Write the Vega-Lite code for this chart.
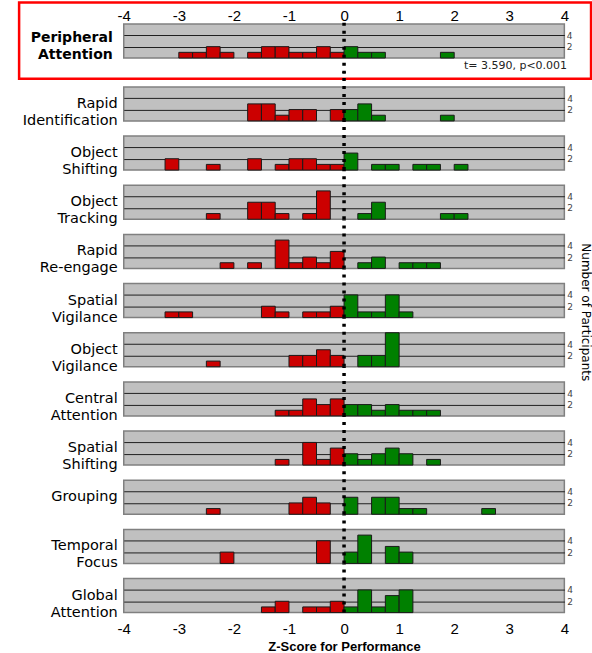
{
"$schema": "https://vega.github.io/schema/vega-lite/v6.json",
"background": "white",
"padding": {"left": 16.75, "top": 0, "right": 0, "bottom": 0},
"autosize": {"type": "pad"},
"spacing": -12.1,
"title": {"text": "Number of Participants", "orient": "right", "anchor": "middle", "font": "DejaVu Sans", "fontSize": 12, "fontWeight": "normal", "color": "#000", "offset": -14, "dx": -15},
"config": {
  "view": {"fill": "#C0C0C0", "stroke": "#808080", "strokeWidth": 1.5},
  "axis": {"labelFont": "Liberation Sans", "titleFont": "Liberation Sans"}
},
"datasets": {"hist": [
{"task":"Peripheral|Attention","lo":-3,"hi":-2.75,"n":1},
{"task":"Peripheral|Attention","lo":-2.75,"hi":-2.5,"n":1},
{"task":"Peripheral|Attention","lo":-2.5,"hi":-2.25,"n":2},
{"task":"Peripheral|Attention","lo":-2.25,"hi":-2,"n":1},
{"task":"Peripheral|Attention","lo":-1.75,"hi":-1.5,"n":1},
{"task":"Peripheral|Attention","lo":-1.5,"hi":-1.25,"n":2},
{"task":"Peripheral|Attention","lo":-1.25,"hi":-1,"n":2},
{"task":"Peripheral|Attention","lo":-1,"hi":-0.75,"n":1},
{"task":"Peripheral|Attention","lo":-0.75,"hi":-0.5,"n":1},
{"task":"Peripheral|Attention","lo":-0.5,"hi":-0.25,"n":2},
{"task":"Peripheral|Attention","lo":-0.25,"hi":0,"n":1},
{"task":"Peripheral|Attention","lo":0,"hi":0.25,"n":2},
{"task":"Peripheral|Attention","lo":0.25,"hi":0.5,"n":1},
{"task":"Peripheral|Attention","lo":0.5,"hi":0.75,"n":1},
{"task":"Peripheral|Attention","lo":1.75,"hi":2,"n":1},
{"task":"Rapid|Identification","lo":-1.75,"hi":-1.5,"n":3},
{"task":"Rapid|Identification","lo":-1.5,"hi":-1.25,"n":3},
{"task":"Rapid|Identification","lo":-1.25,"hi":-1,"n":1},
{"task":"Rapid|Identification","lo":-1,"hi":-0.75,"n":2},
{"task":"Rapid|Identification","lo":-0.75,"hi":-0.5,"n":2},
{"task":"Rapid|Identification","lo":-0.25,"hi":0,"n":2},
{"task":"Rapid|Identification","lo":0,"hi":0.25,"n":2},
{"task":"Rapid|Identification","lo":0.25,"hi":0.5,"n":3},
{"task":"Rapid|Identification","lo":0.5,"hi":0.75,"n":1},
{"task":"Rapid|Identification","lo":1.75,"hi":2,"n":1},
{"task":"Object|Shifting","lo":-3.25,"hi":-3,"n":2},
{"task":"Object|Shifting","lo":-2.5,"hi":-2.25,"n":1},
{"task":"Object|Shifting","lo":-1.75,"hi":-1.5,"n":2},
{"task":"Object|Shifting","lo":-1.25,"hi":-1,"n":1},
{"task":"Object|Shifting","lo":-1,"hi":-0.75,"n":2},
{"task":"Object|Shifting","lo":-0.75,"hi":-0.5,"n":2},
{"task":"Object|Shifting","lo":-0.5,"hi":-0.25,"n":1},
{"task":"Object|Shifting","lo":-0.25,"hi":0,"n":1},
{"task":"Object|Shifting","lo":0,"hi":0.25,"n":3},
{"task":"Object|Shifting","lo":0.5,"hi":0.75,"n":1},
{"task":"Object|Shifting","lo":0.75,"hi":1,"n":1},
{"task":"Object|Shifting","lo":1.25,"hi":1.5,"n":1},
{"task":"Object|Shifting","lo":1.5,"hi":1.75,"n":1},
{"task":"Object|Shifting","lo":2,"hi":2.25,"n":1},
{"task":"Object|Tracking","lo":-2.5,"hi":-2.25,"n":1},
{"task":"Object|Tracking","lo":-1.75,"hi":-1.5,"n":3},
{"task":"Object|Tracking","lo":-1.5,"hi":-1.25,"n":3},
{"task":"Object|Tracking","lo":-1.25,"hi":-1,"n":1},
{"task":"Object|Tracking","lo":-0.75,"hi":-0.5,"n":1},
{"task":"Object|Tracking","lo":-0.5,"hi":-0.25,"n":5},
{"task":"Object|Tracking","lo":0.25,"hi":0.5,"n":1},
{"task":"Object|Tracking","lo":0.5,"hi":0.75,"n":3},
{"task":"Object|Tracking","lo":1.75,"hi":2,"n":1},
{"task":"Object|Tracking","lo":2,"hi":2.25,"n":1},
{"task":"Rapid|Re-engage","lo":-2.25,"hi":-2,"n":1},
{"task":"Rapid|Re-engage","lo":-1.75,"hi":-1.5,"n":1},
{"task":"Rapid|Re-engage","lo":-1.25,"hi":-1,"n":5},
{"task":"Rapid|Re-engage","lo":-1,"hi":-0.75,"n":1},
{"task":"Rapid|Re-engage","lo":-0.75,"hi":-0.5,"n":2},
{"task":"Rapid|Re-engage","lo":-0.5,"hi":-0.25,"n":1},
{"task":"Rapid|Re-engage","lo":-0.25,"hi":0,"n":3},
{"task":"Rapid|Re-engage","lo":0.25,"hi":0.5,"n":1},
{"task":"Rapid|Re-engage","lo":0.5,"hi":0.75,"n":2},
{"task":"Rapid|Re-engage","lo":1,"hi":1.25,"n":1},
{"task":"Rapid|Re-engage","lo":1.25,"hi":1.5,"n":1},
{"task":"Rapid|Re-engage","lo":1.5,"hi":1.75,"n":1},
{"task":"Spatial|Vigilance","lo":-3.25,"hi":-3,"n":1},
{"task":"Spatial|Vigilance","lo":-3,"hi":-2.75,"n":1},
{"task":"Spatial|Vigilance","lo":-1.5,"hi":-1.25,"n":2},
{"task":"Spatial|Vigilance","lo":-1.25,"hi":-1,"n":1},
{"task":"Spatial|Vigilance","lo":-0.75,"hi":-0.5,"n":1},
{"task":"Spatial|Vigilance","lo":-0.5,"hi":-0.25,"n":1},
{"task":"Spatial|Vigilance","lo":-0.25,"hi":0,"n":2},
{"task":"Spatial|Vigilance","lo":0,"hi":0.25,"n":4},
{"task":"Spatial|Vigilance","lo":0.25,"hi":0.5,"n":1},
{"task":"Spatial|Vigilance","lo":0.5,"hi":0.75,"n":1},
{"task":"Spatial|Vigilance","lo":0.75,"hi":1,"n":4},
{"task":"Spatial|Vigilance","lo":1,"hi":1.25,"n":1},
{"task":"Object|Vigilance","lo":-2.5,"hi":-2.25,"n":1},
{"task":"Object|Vigilance","lo":-1,"hi":-0.75,"n":2},
{"task":"Object|Vigilance","lo":-0.75,"hi":-0.5,"n":2},
{"task":"Object|Vigilance","lo":-0.5,"hi":-0.25,"n":3},
{"task":"Object|Vigilance","lo":-0.25,"hi":0,"n":2},
{"task":"Object|Vigilance","lo":0.25,"hi":0.5,"n":2},
{"task":"Object|Vigilance","lo":0.5,"hi":0.75,"n":2},
{"task":"Object|Vigilance","lo":0.75,"hi":1,"n":6},
{"task":"Central|Attention","lo":-1.25,"hi":-1,"n":1},
{"task":"Central|Attention","lo":-1,"hi":-0.75,"n":1},
{"task":"Central|Attention","lo":-0.75,"hi":-0.5,"n":3},
{"task":"Central|Attention","lo":-0.5,"hi":-0.25,"n":2},
{"task":"Central|Attention","lo":-0.25,"hi":0,"n":3},
{"task":"Central|Attention","lo":0,"hi":0.25,"n":2},
{"task":"Central|Attention","lo":0.25,"hi":0.5,"n":2},
{"task":"Central|Attention","lo":0.5,"hi":0.75,"n":1},
{"task":"Central|Attention","lo":0.75,"hi":1,"n":2},
{"task":"Central|Attention","lo":1,"hi":1.25,"n":1},
{"task":"Central|Attention","lo":1.25,"hi":1.5,"n":1},
{"task":"Central|Attention","lo":1.5,"hi":1.75,"n":1},
{"task":"Spatial|Shifting","lo":-1.25,"hi":-1,"n":1},
{"task":"Spatial|Shifting","lo":-0.75,"hi":-0.5,"n":4},
{"task":"Spatial|Shifting","lo":-0.5,"hi":-0.25,"n":1},
{"task":"Spatial|Shifting","lo":-0.25,"hi":0,"n":3},
{"task":"Spatial|Shifting","lo":0,"hi":0.25,"n":2},
{"task":"Spatial|Shifting","lo":0.25,"hi":0.5,"n":1},
{"task":"Spatial|Shifting","lo":0.5,"hi":0.75,"n":2},
{"task":"Spatial|Shifting","lo":0.75,"hi":1,"n":3},
{"task":"Spatial|Shifting","lo":1,"hi":1.25,"n":2},
{"task":"Spatial|Shifting","lo":1.5,"hi":1.75,"n":1},
{"task":"Grouping","lo":-2.5,"hi":-2.25,"n":1},
{"task":"Grouping","lo":-1,"hi":-0.75,"n":2},
{"task":"Grouping","lo":-0.75,"hi":-0.5,"n":3},
{"task":"Grouping","lo":-0.5,"hi":-0.25,"n":2},
{"task":"Grouping","lo":0,"hi":0.25,"n":3},
{"task":"Grouping","lo":0.5,"hi":0.75,"n":3},
{"task":"Grouping","lo":0.75,"hi":1,"n":3},
{"task":"Grouping","lo":1,"hi":1.25,"n":1},
{"task":"Grouping","lo":1.25,"hi":1.5,"n":1},
{"task":"Grouping","lo":2.5,"hi":2.75,"n":1},
{"task":"Temporal|Focus","lo":-2.25,"hi":-2,"n":2},
{"task":"Temporal|Focus","lo":-0.5,"hi":-0.25,"n":4},
{"task":"Temporal|Focus","lo":0,"hi":0.25,"n":2},
{"task":"Temporal|Focus","lo":0.25,"hi":0.5,"n":5},
{"task":"Temporal|Focus","lo":0.75,"hi":1,"n":3},
{"task":"Temporal|Focus","lo":1,"hi":1.25,"n":2},
{"task":"Global|Attention","lo":-1.5,"hi":-1.25,"n":1},
{"task":"Global|Attention","lo":-1.25,"hi":-1,"n":2},
{"task":"Global|Attention","lo":-0.75,"hi":-0.5,"n":1},
{"task":"Global|Attention","lo":-0.5,"hi":-0.25,"n":1},
{"task":"Global|Attention","lo":-0.25,"hi":0,"n":2},
{"task":"Global|Attention","lo":0,"hi":0.25,"n":1},
{"task":"Global|Attention","lo":0.25,"hi":0.5,"n":4},
{"task":"Global|Attention","lo":0.5,"hi":0.75,"n":1},
{"task":"Global|Attention","lo":0.75,"hi":1,"n":3},
{"task":"Global|Attention","lo":1,"hi":1.25,"n":4}
]},
"vconcat": [
{
  "data": {"name": "hist"},
  "transform": [{"filter": "datum.task === 'Peripheral|Attention'"}],
  "width": 440.6, "height": 34,
  "layer": [
    {
      "mark": {"type": "rect", "stroke": "#1a1a1a", "strokeWidth": 1},
      "encoding": {
        "x": {"field": "lo", "type": "quantitative", "scale": {"domain": [-4, 4], "nice": false, "zero": false},
              "axis": {"orient": "top", "values": [-4,-3,-2,-1,0,1,2,3,4], "labelExpr": "'' + datum.value", "ticks": false, "domain": false, "grid": false, "labelFontSize": 15, "labelPadding": 1, "labelColor": "#000", "title": null, "labelFlush": false}},
        "x2": {"field": "hi"},
        "y": {"field": "n", "type": "quantitative", "scale": {"domain": [0, 6], "nice": false},
              "axis": {"orient": "right", "values": [2, 4], "grid": true, "gridColor": "#202020", "gridWidth": 1, "ticks": false, "domain": false, "labelFontSize": 9, "labelColor": "#444", "labelPadding": 2, "title": null, "labelFont": "DejaVu Sans"}},
        "y2": {"datum": 0},
        "color": {"condition": {"test": "datum.lo < 0", "value": "#CC0000"}, "value": "#008000"}
      }
    },
    {
      "transform": [{"aggregate": [{"op": "count", "as": "c"}], "groupby": ["task"]}],
      "mark": {"type": "rule", "strokeDash": [3, 5], "strokeWidth": 3.5, "color": "#000"},
      "encoding": {"x": {"datum": 0}, "y": {"datum": -2.79}, "y2": {"datum": 6.45}}
    },
    {
      "transform": [{"aggregate": [{"op": "count", "as": "c"}], "groupby": ["task"]}],
      "mark": {"type": "text", "align": "right", "baseline": "middle", "font": "DejaVu Sans", "fontSize": 11, "color": "#222"},
      "encoding": {"x": {"datum": 4.05}, "y": {"datum": -1.46}, "text": {"value": "t= 3.590, p<0.001"}}
    },
    {
      "transform": [{"aggregate": [{"op": "count", "as": "c"}], "groupby": ["task"]}],
      "mark": {"type": "text", "align": "right", "baseline": "middle", "lineBreak": "|", "dx": -11, "font": "DejaVu Sans", "fontSize": 14, "fontWeight": "bold", "lineHeight": 17, "color": "#000"},
      "encoding": {"x": {"datum": -4}, "y": {"datum": 3.5}, "text": {"field": "task"}}
    },
    {
      "transform": [{"aggregate": [{"op": "count", "as": "c"}], "groupby": ["task"]}],
      "mark": {"type": "rect", "fillOpacity": 0, "stroke": "#FF0000", "strokeWidth": 2.5},
      "encoding": {"x": {"datum": -5.9}, "x2": {"datum": 4.485}, "y": {"datum": 9.78}, "y2": {"datum": -3.64}}
    }
  ]
},
{
  "data": {"name": "hist"},
  "transform": [{"filter": "datum.task !== 'Peripheral|Attention'"}],
  "bounds": "flush",
  "spacing": {"row": 15.17},
  "facet": {"row": {"field": "task", "type": "nominal", "title": null,
    "sort": ["Rapid|Identification","Object|Shifting","Object|Tracking","Rapid|Re-engage","Spatial|Vigilance","Object|Vigilance","Central|Attention","Spatial|Shifting","Grouping","Temporal|Focus","Global|Attention"],
    "header": {"labels": false, "title": null}}},
  "spec": {
    "width": 440.6, "height": 34,
    "layer": [
      {
        "mark": {"type": "rect", "stroke": "#1a1a1a", "strokeWidth": 1},
        "encoding": {
          "x": {"field": "lo", "type": "quantitative", "scale": {"domain": [-4, 4], "nice": false, "zero": false},
                "axis": {"orient": "bottom", "values": [-4,-3,-2,-1,0,1,2,3,4], "labelExpr": "'' + datum.value", "ticks": false, "domain": false, "grid": false, "labelFontSize": 15, "labelPadding": 9, "labelColor": "#000", "labelFlush": false, "title": "Z-Score for Performance", "titleFontSize": 13, "titleFontWeight": "bold", "titlePadding": 4, "titleColor": "#000"}},
          "x2": {"field": "hi"},
          "y": {"field": "n", "type": "quantitative", "scale": {"domain": [0, 6], "nice": false},
                "axis": {"orient": "right", "values": [2, 4], "grid": true, "gridColor": "#202020", "gridWidth": 1, "ticks": false, "domain": false, "labelFontSize": 9, "labelColor": "#444", "labelPadding": 2, "title": null, "labelFont": "DejaVu Sans"}},
          "y2": {"datum": 0},
          "color": {"condition": {"test": "datum.lo < 0", "value": "#CC0000"}, "value": "#008000"}
        }
      },
      {
        "transform": [{"aggregate": [{"op": "count", "as": "c"}], "groupby": ["task"]}],
        "mark": {"type": "rule", "strokeDash": [3, 5], "strokeWidth": 3.5, "color": "#000"},
        "encoding": {"x": {"datum": 0}, "y": {"datum": 0}, "y2": {"datum": 8.68}}
      },
      {
        "transform": [{"aggregate": [{"op": "count", "as": "c"}], "groupby": ["task"]}],
        "mark": {"type": "text", "align": "right", "baseline": "middle", "lineBreak": "|", "dx": -6, "font": "DejaVu Sans", "fontSize": 14.5, "lineHeight": 17, "color": "#000"},
        "encoding": {"x": {"datum": -4}, "y": {"datum": 3}, "text": {"field": "task"}}
      }
    ]
  }
}
]
}
